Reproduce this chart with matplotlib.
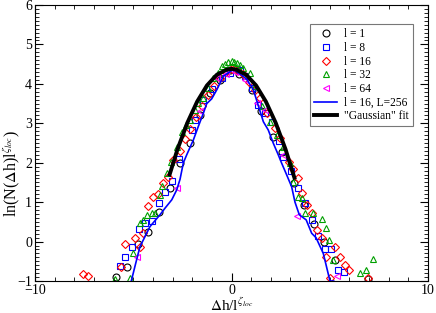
import numpy as np
import matplotlib
matplotlib.use('Agg')
import matplotlib.pyplot as plt
from matplotlib.ticker import MultipleLocator

plt.rcParams['font.family'] = ['Liberation Serif', 'DejaVu Serif']
plt.rcParams['mathtext.fontset'] = 'stix'

# l = 1 (circles)
x1 = [-5.9, -5.3, -4.75, -4.25, -3.7, -3.15, -2.62, -2.1, -1.6, -1.09, -0.6, -0.08, 0.4, 1.03, 1.5,
      2.13, 2.55, 3.2, 3.7, 4.2, 4.7, 5.27, 6.96]
y1 = [-0.9, -0.64, -0.05, 0.24, 0.76, 1.35, 1.99, 2.49, 3.2, 3.76, 4.1, 4.36, 4.25, 3.85, 3.3,
      2.66, 2.28, 1.48, 0.93, 0.45, 0.0, -0.47, -0.96]

# l = 8 (squares)
x8 = [-5.7, -5.42, -5.08, -4.72, -4.4, -4.06, -3.7, -3.38, -3.04, -2.66, -2.03, -1.86, -1.43, -1.01,
      -0.5, -0.08, 0.43, 0.69, 1.05, 1.36, 1.7, 2.05, 2.4, 2.64, 3.05, 3.4, 3.74, 4.08, 4.42, 4.76,
      5.05, 5.44, 5.72]
y8 = [-0.62, -0.4, -0.13, 0.31, 0.46, 0.52, 0.99, 1.26, 1.53, 2.09, 2.83, 3.09, 3.59, 3.87,
      4.15, 4.27, 4.36, 4.19, 3.9, 3.47, 3.26, 3.04, 2.55, 2.15, 1.8, 1.35, 0.97, 0.55, 0.14, -0.2,
      -0.2, -0.72, -0.76]

# l = 16 (diamonds)
x16 = [-7.55, -7.3, -5.62, -5.42, -4.93, -4.68, -4.49, -4.23, -3.98, -3.72, -3.48, -3.22, -2.96,
       -2.6, -2.35, -2.1, -1.8, -1.5, -1.2, -0.9, -0.6, -0.3, 0.0, 0.3, 0.6, 0.9, 1.2, 1.45, 1.8,
       2.2, 2.47, 2.9, 3.15, 3.4, 3.6, 3.86, 4.08, 4.37, 4.6, 4.82, 5.02, 5.28, 5.5, 5.78, 6.0, 6.96]
y16 = [-0.82, -0.87, -0.64, -0.06, 0.09, -0.14, 0.22, 0.9, 1.12, 1.21, 1.49, 1.64, 2.07,
       2.3, 2.6, 2.85, 3.15, 3.45, 3.72, 3.95, 4.15, 4.3, 4.38, 4.35, 4.25, 4.05, 3.85, 3.64, 3.25,
       2.88, 2.62, 2.03, 1.85, 1.61, 1.23, 0.93, 0.72, 0.29, 0.1, -0.38, -0.93, -0.13, -0.4, -0.59,
       -0.72, -0.93]

# l = 32 (up triangles)
x32 = [-5.93, -5.17, -5.0, -4.66, -4.49, -4.32, -4.06, -3.89, -3.64, -3.55, -3.3, -3.09, -2.79,
       -2.53, -2.3, -2.11, -1.86, -1.69, -1.43, -1.18, -0.93, -0.67, -0.5, -0.35, -0.2, 0.0, 0.15,
       0.3, 0.45, 0.6, 0.94, 1.2, 1.54, 1.96, 2.3, 2.6, 2.98, 3.15, 3.4, 3.57, 3.74, 4.16, 4.62,
       4.81, 4.97, 5.15, 6.54, 6.82, 7.2]
y32 = [-0.96, -0.93, -0.3, 0.46, 0.55, 0.68, 0.72, 0.72, 1.18, 1.4, 1.75, 2.02, 2.4,
       2.79, 2.95, 3.09, 3.34, 3.51, 3.64, 3.89, 4.14, 4.27, 4.45, 4.5, 4.55, 4.57, 4.55,
       4.53, 4.48, 4.4, 4.27, 3.95, 3.45, 3.04, 2.7, 2.4, 2.0, 1.5, 1.14, 1.1, 0.72, 0.72, 0.57,
       0.34, 0.03, -0.47, -0.8, -0.71, -0.45]

# l = 64 (left triangles)
x64 = [-4.81, -2.75, -1.6, -0.75, -0.3, 0.2, 0.7, 1.31, 1.7, 2.6, 3.32, 5.35]
y64 = [-0.4, 1.35, 3.3, 4.14, 4.25, 4.3, 4.1, 3.51, 3.34, 2.2, 0.65, -0.87]

# l = 16, L = 256 (line)
xL = [-5.1, -4.9, -4.66, -4.15, -3.64, -3.38, -3.04, -2.79, -2.62, -2.45, -2.28, -1.94, -1.69,
      -1.43, -1.26, -1.01, -0.75, -0.42, -0.16, 0.09, 0.26, 0.52, 0.77, 1.11, 1.3, 1.62, 1.87,
      2.13, 2.38, 2.55, 2.8, 3.06, 3.23, 3.45, 3.8, 4.08, 4.3, 4.67, 5.01, 5.2]
yL = [-1.0, -0.6, -0.13, 0.38, 0.68, 0.85, 1.06, 1.31, 1.58, 2.0, 2.2, 2.58, 2.92,
      3.26, 3.5, 3.62, 3.85, 4.19, 4.28, 4.36, 4.31, 4.22, 4.12, 3.85, 3.55, 3.04, 2.83,
      2.49, 2.2, 1.99, 1.7, 1.39, 1.0, 0.68, 0.55, 0.21, 0.1, -0.3, -1.0, -1.0]

# "Gaussian" fit
xg = [-3.15, -2.75, -2.25, -1.75, -1.25, -0.75, -0.25, 0.0, 0.25, 0.75, 1.25, 1.75, 2.25, 2.75, 3.2]
yg = [1.70, 2.34, 3.01, 3.55, 3.96, 4.23, 4.36, 4.38, 4.36, 4.23, 3.96, 3.55, 3.01, 2.34, 1.62]

fig = plt.figure(figsize=(4.36, 3.13), dpi=100)
ax = fig.add_axes([0.0803, 0.1022, 0.9014, 0.8818])

mk = dict(linestyle='none', markersize=5, markerfacecolor='none', markeredgewidth=0.8)
ax.plot(x1, y1, marker='o', color='black', label='l = 1', **mk)
ax.plot(x8, y8, marker='s', color='#0000ff', label='l = 8', **mk)
ax.plot(x16, y16, marker='D', color='#ff0000', label='l = 16', linestyle='none', markersize=4,
        markerfacecolor='none', markeredgewidth=0.8)
ax.plot(x32, y32, marker='^', color='#00a000', label='l = 32', **mk)
ax.plot(x64, y64, marker='<', color='#ff00ff', label='l = 64', **mk)
ax.plot(xL, yL, color='#0000ff', lw=1.2, label='l = 16, L=256')
ax.plot(xg, yg, color='black', lw=2.8, label='"Gaussian" fit')

ax.set_xlim(-10, 10)
ax.set_ylim(-1, 6)
ax.xaxis.set_major_locator(MultipleLocator(10))
ax.xaxis.set_minor_locator(MultipleLocator(1))
ax.yaxis.set_major_locator(MultipleLocator(1))
ax.yaxis.set_minor_locator(MultipleLocator(0.1))
ax.tick_params(which='both', direction='in', top=True, right=True, labelsize=10)
ax.tick_params(which='major', length=6, width=0.8)
ax.tick_params(which='minor', length=3, width=0.6)
ax.tick_params(axis='x', which='major', pad=2)
ax.tick_params(axis='y', which='major', pad=2)

ax.set_xlabel(r'$\Delta$h/l$^{\zeta_{loc}}$', fontsize=11, va='baseline')
ax.xaxis.set_label_coords(0.5, -0.108)
ax.set_ylabel(r'ln(N($\Delta$h)l$^{\zeta_{loc}}$)', fontsize=11.5)
ax.yaxis.set_label_coords(-0.033, 0.39)

leg = ax.legend(loc='upper left', bbox_to_anchor=(0.70, 0.931), fontsize=8.3, frameon=True,
                fancybox=False, edgecolor='#555555', handlelength=2.0, handletextpad=0.6,
                labelspacing=0.15, borderpad=0.35, borderaxespad=0)
leg.get_frame().set_linewidth(0.8)

fig.savefig('out.png', dpi=100)
